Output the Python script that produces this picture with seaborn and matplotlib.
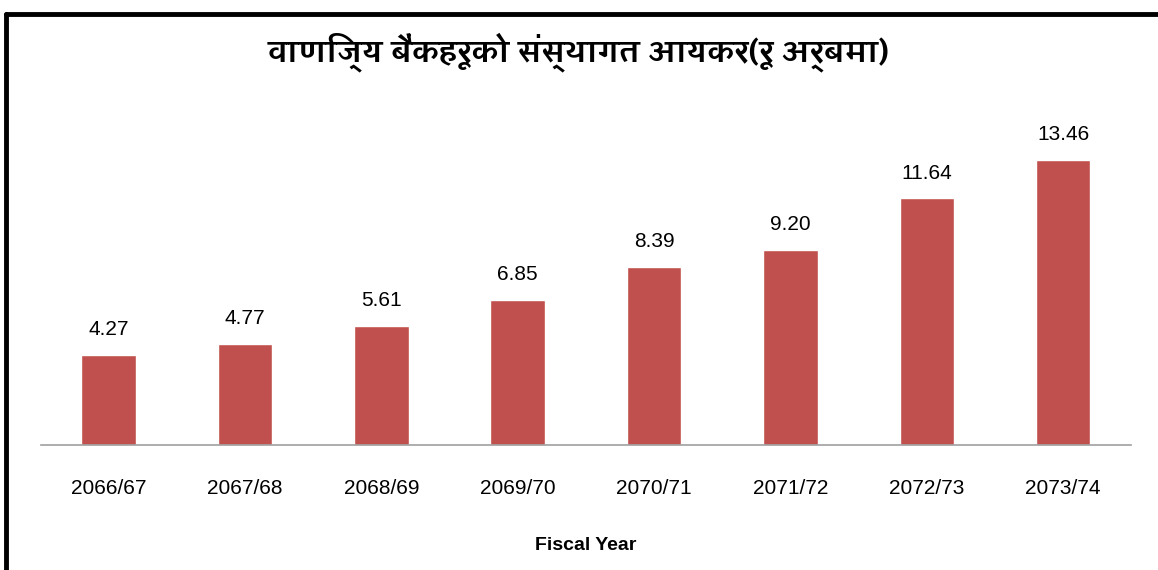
import matplotlib
matplotlib.use("Agg")
import matplotlib.pyplot as plt
import seaborn as sns
import pandas as pd
from matplotlib import font_manager
from matplotlib.ft2font import FT2Font
from matplotlib.lines import Line2D

years = ["2066/67", "2067/68", "2068/69", "2069/70", "2070/71", "2071/72", "2072/73", "2073/74"]
values = [4.27, 4.77, 5.61, 6.85, 8.39, 9.20, 11.64, 13.46]
value_labels = ["4.27", "4.77", "5.61", "6.85", "8.39", "9.20", "11.64", "13.46"]
title = "वाणिज्य बैंकहरूको संस्थागत आयकर(रू अर्बमा)"
xlabel = "Fiscal Year"

sns.set_theme(style="white")

# find fonts with Devanagari glyphs, prefer proportional sans
cands = []
for path in font_manager.findSystemFonts():
    try:
        cmap = FT2Font(path).get_charmap()
        if 0x0935 in cmap and 0x093E in cmap:
            name = font_manager.FontProperties(fname=path).get_name()
            score = 0
            low = (name + path).lower()
            if "mono" in low:
                score += 10
            if "serif" in low:
                score += 2
            if "bold" in low:
                score -= 1
            cands.append((score, name))
    except Exception:
        pass
cands.sort()
deva_font = cands[0][1] if cands else None

latin = ["Liberation Sans Narrow", "Liberation Sans", "DejaVu Sans"]
plt.rcParams["font.family"] = latin
title_fams = ([deva_font] if deva_font else []) + ["DejaVu Sans"]

df = pd.DataFrame({"year": years, "value": values})

fig = plt.figure(figsize=(11.58, 5.70), dpi=100)
ax = fig.add_axes([0.035, 0.219, 0.942, 0.595])
sns.barplot(data=df, x="year", y="value", color="#C0504D", width=0.4,
            saturation=1, ax=ax)
ax.set_ylim(0, 16)
ax.set_yticks([])
ax.set_ylabel("")
for s in ["top", "left", "right"]:
    ax.spines[s].set_visible(False)
ax.spines["bottom"].set_color("#A0A0A0")
ax.spines["bottom"].set_linewidth(1.2)
ax.tick_params(axis="x", length=0, pad=24, labelsize=15, labelcolor="black")
ax.set_xlabel(xlabel, fontsize=14, fontweight="bold", color="black")
ax.xaxis.set_label_coords(0.5, -0.27)
for i, (v, lab) in enumerate(zip(values, value_labels)):
    ax.text(i, v + 0.75, lab, ha="center", va="bottom", fontsize=15, color="black")

fig.text(0.5, 0.908, title, ha="center", va="center", fontsize=22,
         fontweight="bold", color="black", family=title_fams)

# frame lines
fig.add_artist(Line2D([0.005, 1.0], [0.975, 0.975], color="black", lw=3.5,
                      transform=fig.transFigure))
fig.add_artist(Line2D([0.005, 0.005], [0.0, 0.975], color="black", lw=3.5,
                      transform=fig.transFigure))
fig.savefig("out.png", dpi=100)
